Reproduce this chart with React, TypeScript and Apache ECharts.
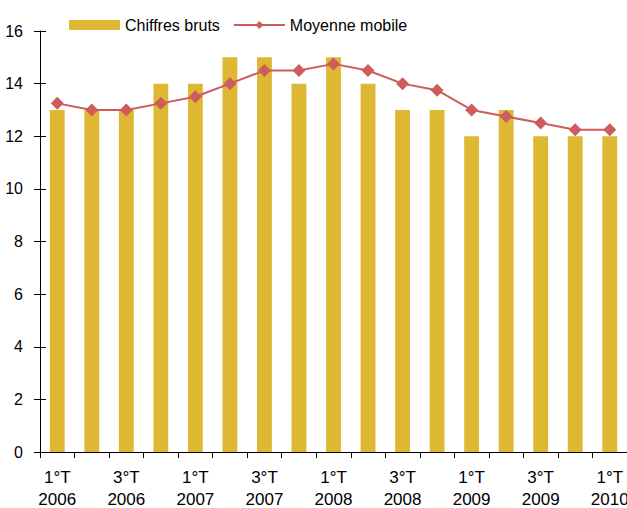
import React, { useEffect, useRef } from "react";
import * as echarts from "echarts";

const categories = [
  "1°T\n2006", "2°T\n2006", "3°T\n2006", "4°T\n2006",
  "1°T\n2007", "2°T\n2007", "3°T\n2007", "4°T\n2007",
  "1°T\n2008", "2°T\n2008", "3°T\n2008", "4°T\n2008",
  "1°T\n2009", "2°T\n2009", "3°T\n2009", "4°T\n2009",
  "1°T\n2010",
];
const chiffresBruts = [13, 13, 13, 14, 14, 15, 15, 14, 15, 14, 13, 13, 12, 13, 12, 12, 12];
const moyenneMobile = [13.25, 13, 13, 13.25, 13.5, 14, 14.5, 14.5, 14.75, 14.5, 14, 13.75, 13, 12.75, 12.5, 12.25, 12.25];
const yTicks = { min: 0, max: 16, interval: 2 };

export default function App() {
  const ref = useRef<HTMLDivElement>(null);
  useEffect(() => {
    if (!ref.current) return;
    const chart = echarts.init(ref.current, null, { renderer: "svg" });
    const font = "Liberation Sans, Arial, sans-serif";
    chart.setOption({
      animation: false,
      textStyle: { fontFamily: font },
      legend: {
        left: 64,
        top: 12,
        itemWidth: 51,
        itemHeight: 10,
        itemGap: 13,
        textStyle: { fontSize: 16, color: "#000", fontFamily: font },
        data: [
          { name: "Chiffres bruts", icon: "rect" },
          { name: "Moyenne mobile" },
        ],
      },
      grid: { left: 40, right: 0, top: 31, bottom: 56, outerBoundsMode: "none", containLabel: false },
      xAxis: {
        type: "category",
        data: categories,
        axisLine: { lineStyle: { color: "#000", width: 1 } },
        axisTick: { show: true, interval: 0, length: 6, lineStyle: { color: "#000" } },
        axisLabel: {
          interval: 1,
          color: "#000",
          fontSize: 17,
          lineHeight: 22,
          margin: 14,
          fontFamily: font,
        },
      },
      yAxis: [
        {
          type: "value",
          min: yTicks.min,
          max: yTicks.max,
          interval: yTicks.interval,
          splitLine: { show: false },
          axisLine: { show: true, lineStyle: { color: "#000", width: 1 } },
          axisTick: { show: true, length: 6, lineStyle: { color: "#000" } },
          axisLabel: { color: "#000", fontSize: 16, margin: 17, fontFamily: font },
        },
        {
          type: "value",
          position: "left",
          min: yTicks.min,
          max: yTicks.max,
          interval: yTicks.interval,
          splitLine: { show: false },
          axisLine: { show: false },
          axisTick: { show: true, inside: true, length: 6, lineStyle: { color: "#000" } },
          axisLabel: { show: false },
        },
      ],
      series: [
        {
          name: "Chiffres bruts",
          type: "bar",
          data: chiffresBruts,
          barWidth: "43%",
          itemStyle: { color: "#DFB833" },
        },
        {
          name: "Moyenne mobile",
          type: "line",
          data: moyenneMobile,
          symbol: "diamond",
          symbolSize: 13,
          lineStyle: { color: "#CD5C5C", width: 2 },
          itemStyle: { color: "#CD5C5C" },
        },
      ],
    });
    return () => chart.dispose();
  }, []);
  return (
    <div
      ref={ref}
      style={{ position: "absolute", left: 0, top: 0, width: 627, height: 508 }}
    />
  );
}
